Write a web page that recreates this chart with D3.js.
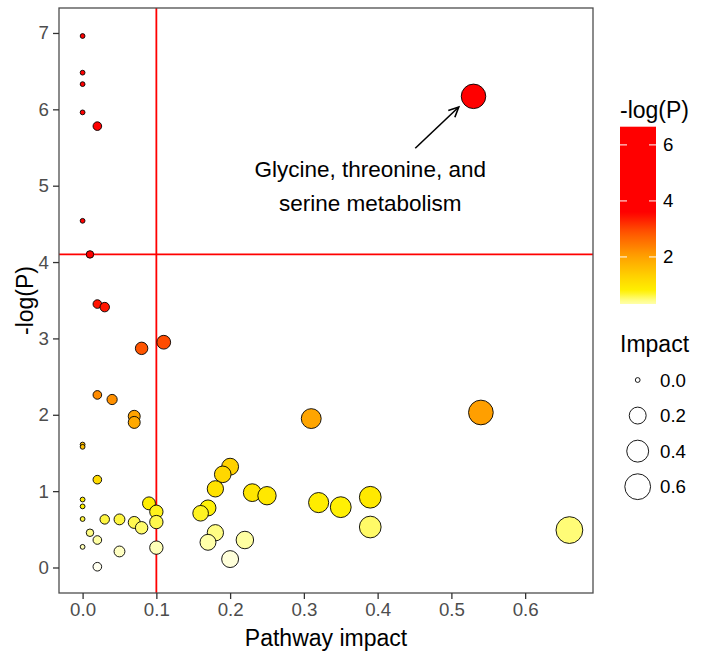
<!DOCTYPE html>
<html>
<head>
<meta charset="utf-8">
<script src="https://cdn.jsdelivr.net/npm/d3@7"></script>
<style>
  html, body { margin: 0; padding: 0; background: #fff; }
  svg { display: block; font-family: "Liberation Sans", Arial, sans-serif; }
</style>
</head>
<body>
<svg id="chart" width="704" height="662"></svg>
<script>
// ---- data (ordered as drawn: descending -log(P)) ----
const impact = [0, 0, 0, 0.53, 0, 0.02, 0, 0.01, 0.02, 0.03,
                0.11, 0.08, 0.02, 0.04, 0.54, 0.07, 0.31, 0.07, 0, 0,
                0.20, 0.19, 0.02, 0.18, 0.23, 0.25, 0.39, 0, 0.32, 0.09,
                0, 0.35, 0.17, 0.10, 0.16, 0, 0.03, 0.05, 0.10, 0.07,
                0.39, 0.08, 0.66, 0.01, 0.18, 0.02, 0.22, 0.17, 0, 0.10,
                0.05, 0.20, 0.02];
const logP = [6.96, 6.48, 6.33, 6.17, 5.96, 5.78, 4.54, 4.10, 3.45, 3.41,
              2.95, 2.87, 2.26, 2.20, 2.03, 1.98, 1.95, 1.90, 1.61, 1.58,
              1.32, 1.22, 1.15, 1.03, 0.98, 0.94, 0.92, 0.89, 0.85, 0.84,
              0.80, 0.79, 0.78, 0.73, 0.71, 0.635, 0.63, 0.63, 0.595, 0.59,
              0.53, 0.52, 0.49, 0.455, 0.455, 0.36, 0.36, 0.33, 0.27, 0.26,
              0.21, 0.11, 0.01];
const xTicks = [0, 0.1, 0.2, 0.3, 0.4, 0.5, 0.6];
const yTicks = [0, 1, 2, 3, 4, 5, 6, 7];
const colorTicks = [2, 4, 6];
const sizeLegendValues = [0, 0.2, 0.4, 0.6];
const colorStops = [0, 0.4, 0.8, 1.3, 2.0, 2.9, 3.6, 7];
const colorRange = ["#FFFFF2", "#FFFF99", "#FFF000", "#FFD200", "#FFA200", "#FF5200", "#FF0000", "#FF0000"];
const thresholdX = 0.1;
const thresholdY = 4.1;
const annotationLines = ["Glycine, threonine, and", "serine metabolism"];

// ---- layout ----
const svg = d3.select("#chart");
const panel = {left: 59, right: 593, top: 8, bottom: 593};

const x = d3.scaleLinear().domain([-0.032, 0.692]).range([panel.left, panel.right]);
const y = d3.scaleLinear().domain([-0.334, 7.327]).range([panel.bottom, panel.top]);
const rLin = d3.scaleLinear().domain([0, Math.sqrt(0.66)]).range([2.4, 13.4]);
const r = v => rLin(Math.sqrt(v));
const color = d3.scaleLinear().domain(colorStops).range(colorRange).clamp(true);

const data = impact.map((v, i) => ({impact: v, logP: logP[i]}));

// threshold lines
const lines = svg.append("g");
lines.append("line")
  .attr("x1", x(thresholdX)).attr("x2", x(thresholdX))
  .attr("y1", panel.top).attr("y2", panel.bottom)
  .attr("stroke", "#FF0000").attr("stroke-width", 1.8);
lines.append("line")
  .attr("x1", panel.left).attr("x2", panel.right)
  .attr("y1", y(thresholdY)).attr("y2", y(thresholdY))
  .attr("stroke", "#FF0000").attr("stroke-width", 1.8);

// points
svg.append("g").selectAll("circle").data(data).join("circle")
  .attr("cx", d => x(d.impact))
  .attr("cy", d => y(d.logP))
  .attr("r", d => r(d.impact))
  .attr("fill", d => color(d.logP))
  .attr("stroke", "#000")
  .attr("stroke-width", 0.9);

// annotation
const ax = x(0.39);
const ay = y(5.11);
svg.append("text").attr("x", ax).attr("y", ay).attr("text-anchor", "middle")
  .attr("font-size", 22.5).attr("fill", "#000").text(annotationLines[0]);
svg.append("text").attr("x", ax).attr("y", ay + 34).attr("text-anchor", "middle")
  .attr("font-size", 22.5).attr("fill", "#000").text(annotationLines[1]);
// arrow
const a0 = [x(0.451), y(5.49)], a1 = [x(0.510), y(6.03)];
svg.append("line").attr("x1", a0[0]).attr("y1", a0[1]).attr("x2", a1[0]).attr("y2", a1[1])
  .attr("stroke", "#000").attr("stroke-width", 1.6);
const ang = Math.atan2(a1[1] - a0[1], a1[0] - a0[0]);
const hl = 11, ha = Math.PI / 7;
const head = [
  [a1[0] - hl * Math.cos(ang - ha), a1[1] - hl * Math.sin(ang - ha)],
  a1,
  [a1[0] - hl * Math.cos(ang + ha), a1[1] - hl * Math.sin(ang + ha)]
];
svg.append("path").attr("d", d3.line()(head)).attr("fill", "none")
  .attr("stroke", "#000").attr("stroke-width", 1.6);

// panel border
svg.append("rect")
  .attr("x", panel.left).attr("y", panel.top)
  .attr("width", panel.right - panel.left).attr("height", panel.bottom - panel.top)
  .attr("fill", "none").attr("stroke", "#4D4D4D").attr("stroke-width", 1.3);

// axes
const xAxis = svg.append("g").attr("transform", `translate(0,${panel.bottom})`)
  .call(d3.axisBottom(x).tickValues(xTicks).tickFormat(d3.format(".1f")).tickSize(6).tickPadding(4));
const yAxis = svg.append("g").attr("transform", `translate(${panel.left},0)`)
  .call(d3.axisLeft(y).tickValues(yTicks).tickFormat(d3.format("d")).tickSize(6).tickPadding(4));
[xAxis, yAxis].forEach(g => {
  g.select(".domain").remove();
  g.selectAll(".tick line").attr("stroke", "#333").attr("stroke-width", 1.3);
  g.selectAll(".tick text").attr("fill", "#4D4D4D").attr("font-size", 18.7)
    .attr("font-family", "Liberation Sans, Arial, sans-serif");
});

// axis titles
svg.append("text").attr("x", (panel.left + panel.right) / 2).attr("y", 646)
  .attr("text-anchor", "middle").attr("font-size", 23).attr("fill", "#000").text("Pathway impact");
svg.append("text").attr("transform", `translate(33,${(panel.top + panel.bottom) / 2}) rotate(-90)`)
  .attr("text-anchor", "middle").attr("font-size", 23).attr("fill", "#000").text("-log(P)");

// colour legend
const cb = {x: 620, y0: 126.7, y1: 304, w: 36};
const cScale = d3.scaleLinear().domain([0.32, 6.65]).range([cb.y1, cb.y0]);
const defs = svg.append("defs");
const grad = defs.append("linearGradient").attr("id", "cgrad")
  .attr("x1", 0).attr("y1", 1).attr("x2", 0).attr("y2", 0);
d3.range(0, 1.0001, 0.02).forEach(t => {
  const v = 0.32 + t * (6.65 - 0.32);
  grad.append("stop").attr("offset", t).attr("stop-color", color(v));
});
svg.append("text").attr("x", cb.x).attr("y", 118).attr("font-size", 23).attr("fill", "#000").text("-log(P)");
svg.append("rect").attr("x", cb.x).attr("y", cb.y0).attr("width", cb.w).attr("height", cb.y1 - cb.y0)
  .attr("fill", "url(#cgrad)");
const cTick = svg.append("g");
colorTicks.forEach(t => {
  const ty = cScale(t);
  cTick.append("line").attr("x1", cb.x).attr("x2", cb.x + 7).attr("y1", ty).attr("y2", ty)
    .attr("stroke", "#fff").attr("stroke-width", 1);
  cTick.append("line").attr("x1", cb.x + cb.w - 7).attr("x2", cb.x + cb.w).attr("y1", ty).attr("y2", ty)
    .attr("stroke", "#fff").attr("stroke-width", 1);
  cTick.append("text").attr("x", 663).attr("y", ty).attr("dy", "0.35em")
    .attr("font-size", 18.7).attr("fill", "#000").text(t);
});

// size legend
svg.append("text").attr("x", 620).attr("y", 352).attr("font-size", 23).attr("fill", "#000").text("Impact");
const sizeY = d3.scalePoint().domain(sizeLegendValues).range([380, 486.7]);
sizeLegendValues.forEach(v => {
  svg.append("circle").attr("cx", 637.7).attr("cy", sizeY(v)).attr("r", r(v))
    .attr("fill", "#fff").attr("stroke", "#000").attr("stroke-width", 0.9);
  svg.append("text").attr("x", 660).attr("y", sizeY(v)).attr("dy", "0.35em")
    .attr("font-size", 18.7).attr("fill", "#000").text(d3.format(".1f")(v));
});
</script>
</body>
</html>
